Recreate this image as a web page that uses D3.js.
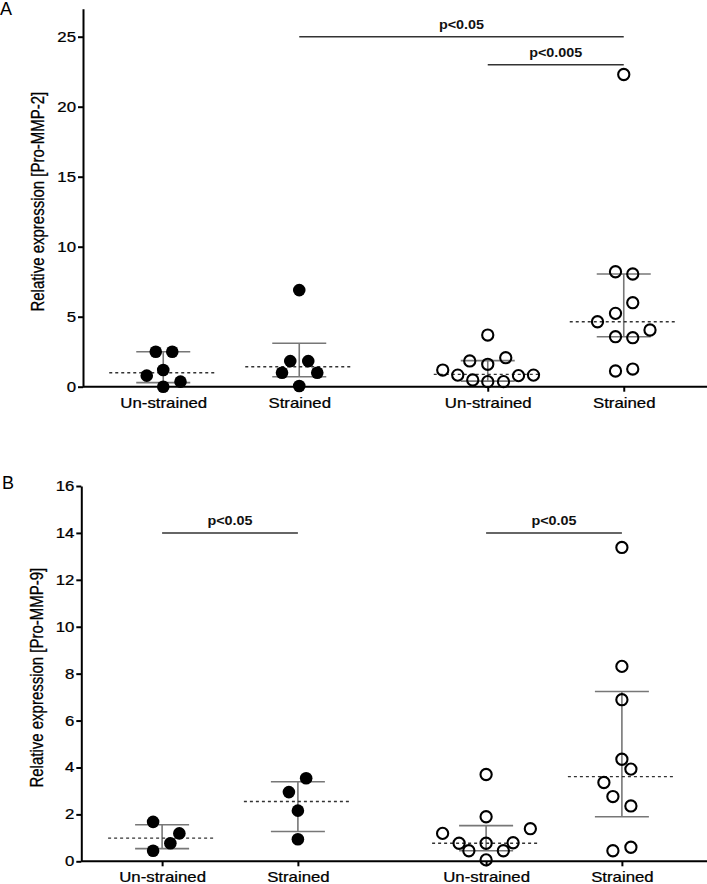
<!DOCTYPE html>
<html><head><meta charset="utf-8">
<script src="https://cdn.jsdelivr.net/npm/d3@7"></script>
<style>body{margin:0;background:#fff} svg{display:block}</style>
</head><body>
<script>
// ---------- data ----------
const categories = ["Un-strained", "Strained", "Un-strained", "Strained"];
const experiments = ["Set 1", "Set 1", "Set 2", "Set 2"];
const markerStyle = ["filled", "filled", "open", "open"];

const mmp2Ticks = [0, 5, 10, 15, 20, 25];
const mmp9Ticks = [0, 2, 4, 6, 8, 10, 12, 14, 16];

const mmp2Values = [
  [2.5, 2.5, 0.79, 1.19, 0.36, 0.0],
  [6.9, 1.83, 1.83, 1.0, 1.0, 0.05],
  [3.69, 1.84, 1.6, 2.07, 1.19, 0.83, 0.48, 0.36, 0.36, 0.79, 0.83],
  [22.3, 8.21, 8.05, 6.0, 5.24, 4.64, 4.05, 3.57, 3.5, 1.12, 1.26]
];
const mmp2Jitter = [
  [-0.5, 0.6, -1.1, 0, 1.15, 0],
  [0, -0.6, 0.6, -1.15, 1.2, 0],
  [0, -1.2, 0, 1.2, -3.0, -2.0, -1.0, 0, 1.05, 2.05, 3.05],
  [0, -0.55, 0.6, 0.6, -0.55, -1.75, 1.75, -0.55, 0.6, -0.55, 0.6]
];
const mmp2Median = [1.0, 1.43, 0.88, 4.64];
const mmp2Q1 = [0.29, 0.71, 0.4, 3.57];
const mmp2Q3 = [2.5, 3.1, 1.86, 8.05];
const mmp2Sig = [
  { from: 1, to: 3, y: 25, label: "p<0.05" },
  { from: 2, to: 3, y: 23, label: "p<0.005" }
];

const mmp9Values = [
  [1.68, 1.19, 0.77, 0.45],
  [3.54, 2.95, 2.16, 0.94],
  [3.70, 1.90, 1.19, 1.39, 0.77, 0.77, 0.79, 0.45, 0.45, 0.06],
  [13.38, 8.31, 6.89, 4.35, 3.93, 3.36, 2.76, 2.36, 0.45, 0.60]
];
const mmp9Jitter = [
  [-0.6, 1.15, 0.55, -0.6],
  [0.55, -0.6, 0, 0],
  [0, 0, -2.9, 2.95, -1.8, 0, 1.8, -1.15, 1.15, 0],
  [0, 0, 0, 0, 0.6, -1.2, -0.6, 0.6, -0.6, 0.6]
];
const mmp9Median = [0.99, 2.55, 0.77, 3.61];
const mmp9Q1 = [0.54, 1.27, 0.45, 1.90];
const mmp9Q3 = [1.56, 3.39, 1.52, 7.24];
const mmp9Sig = [
  { from: 0, to: 1, y: 14, label: "p<0.05" },
  { from: 2, to: 3, y: 14, label: "p<0.05" }
];

// ---------- drawing ----------
const W = 707, H = 884;
const FONT = "'Liberation Sans', Arial, sans-serif";
const SX = 1.2; // horizontal stretch of the reference text

const svg = d3.select("body").append("svg")
  .attr("width", W).attr("height", H)
  .style("font-family", FONT);

const panels = [
  { letter: "A", letterX: 0, letterY: 15, ylabel: "Relative expression [Pro-MMP-2]",
    values: mmp2Values, jitter: mmp2Jitter, median: mmp2Median, q1: mmp2Q1, q3: mmp2Q3,
    sig: mmp2Sig, ticks: mmp2Ticks, ymax: 27, top: 8.7, bottom: 386.7, left: 83,
    xRange: [69, 718], labelX: 43.5 },
  { letter: "B", letterX: 2, letterY: 489, ylabel: "Relative expression [Pro-MMP-9]",
    values: mmp9Values, jitter: mmp9Jitter, median: mmp9Median, q1: mmp9Q1, q3: mmp9Q3,
    sig: mmp9Sig, ticks: mmp9Ticks, ymax: 16, top: 486, bottom: 861.3, left: 81.3,
    xRange: [68, 716], labelX: 43 }
];

function heavy(sel) {
  return sel.attr("fill", "#000").attr("stroke", "#000").attr("stroke-width", 0.25);
}

panels.forEach(p => {
  const g = svg.append("g");

  // scales
  const outer = d3.scaleBand().domain(["Set 1", "Set 2"]).range(p.xRange);
  const inner = d3.scalePoint().domain(["Un-strained", "Strained"])
    .range([0, outer.bandwidth()]).padding(0.693);
  const xPos = i => outer(experiments[i]) + inner(categories[i]);
  const x = d3.scaleOrdinal().domain(d3.range(categories.length))
    .range(d3.range(categories.length).map(xPos));
  const jit = d3.scaleLinear().domain([0, 1]).range([0, 15]);
  const y = d3.scaleLinear().domain([0, p.ymax]).range([p.bottom, p.top]);

  // panel letter
  g.append("text").attr("x", p.letterX).attr("y", p.letterY)
    .attr("font-size", 18).text(p.letter);

  // y axis
  const ya = g.append("g").attr("transform", `translate(${p.left},0)`)
    .call(d3.axisLeft(y).tickValues(p.ticks).tickSize(5).tickSizeOuter(0).tickPadding(0.8));
  ya.select(".domain").attr("stroke-width", 2).attr("stroke", "#000");
  ya.selectAll(".tick line").attr("stroke-width", 2);
  heavy(ya.selectAll(".tick text").attr("font-size", 14).attr("font-family", FONT)
    .attr("transform", `scale(${SX},1)`));

  // x axis
  const xa = g.append("g").attr("transform", `translate(0,${p.bottom})`)
    .call(d3.axisBottom(x).tickSize(5).tickPadding(6).tickFormat(i => categories[i]));
  xa.select(".domain").remove();
  xa.selectAll(".tick line").attr("stroke-width", 2);
  heavy(xa.selectAll(".tick text").attr("font-size", 14).attr("font-family", FONT)
    .attr("transform", `scale(${SX},1)`));
  g.append("line").attr("x1", p.left).attr("x2", W)
    .attr("y1", p.bottom).attr("y2", p.bottom)
    .attr("stroke", "#000").attr("stroke-width", 2);

  // y label
  heavy(g.append("text")
    .attr("transform", `translate(${p.labelX},${(p.top + p.bottom) / 2 + 4}) scale(${SX},1) rotate(-90)`)
    .attr("text-anchor", "middle").attr("font-size", 15)
    .text(p.ylabel));

  // error bars & medians
  categories.forEach((c, i) => {
    const cx = x(i);
    g.append("line").attr("x1", cx).attr("x2", cx)
      .attr("y1", y(p.q1[i])).attr("y2", y(p.q3[i]))
      .attr("stroke", "#777").attr("stroke-width", 1.6);
    [p.q1[i], p.q3[i]].forEach(v => {
      g.append("line").attr("x1", cx - 27).attr("x2", cx + 27)
        .attr("y1", y(v)).attr("y2", y(v))
        .attr("stroke", "#777").attr("stroke-width", 1.6);
    });
    g.append("line").attr("x1", cx - 54).attr("x2", cx + 54)
      .attr("y1", y(p.median[i])).attr("y2", y(p.median[i]))
      .attr("stroke", "#333").attr("stroke-width", 1.4).attr("stroke-dasharray", "3,3");
  });

  // points
  categories.forEach((c, i) => {
    const pts = p.values[i].map((v, k) => ({ v, j: p.jitter[i][k] }));
    const filled = markerStyle[i] === "filled";
    g.append("g").selectAll("circle").data(pts).join("circle")
      .attr("cx", d => x(i) + jit(d.j))
      .attr("cy", d => y(d.v))
      .attr("r", filled ? 6.3 : 5.6)
      .attr("fill", filled ? "#000" : "none")
      .attr("stroke", "#000")
      .attr("stroke-width", filled ? 0 : 2.1);
  });

  // significance bars
  p.sig.forEach(s => {
    const x1 = x(s.from), x2 = x(s.to), yy = y(s.y);
    g.append("line").attr("x1", x1).attr("x2", x2).attr("y1", yy).attr("y2", yy)
      .attr("stroke", "#333").attr("stroke-width", 1.5);
    g.append("text")
      .attr("transform", `translate(${(x1 + x2) / 2},${yy - 8}) scale(${SX},1)`)
      .attr("text-anchor", "middle").attr("font-size", 12).attr("font-weight", "bold")
      .attr("fill", "#111").text(s.label);
  });
});
</script>
</body></html>
